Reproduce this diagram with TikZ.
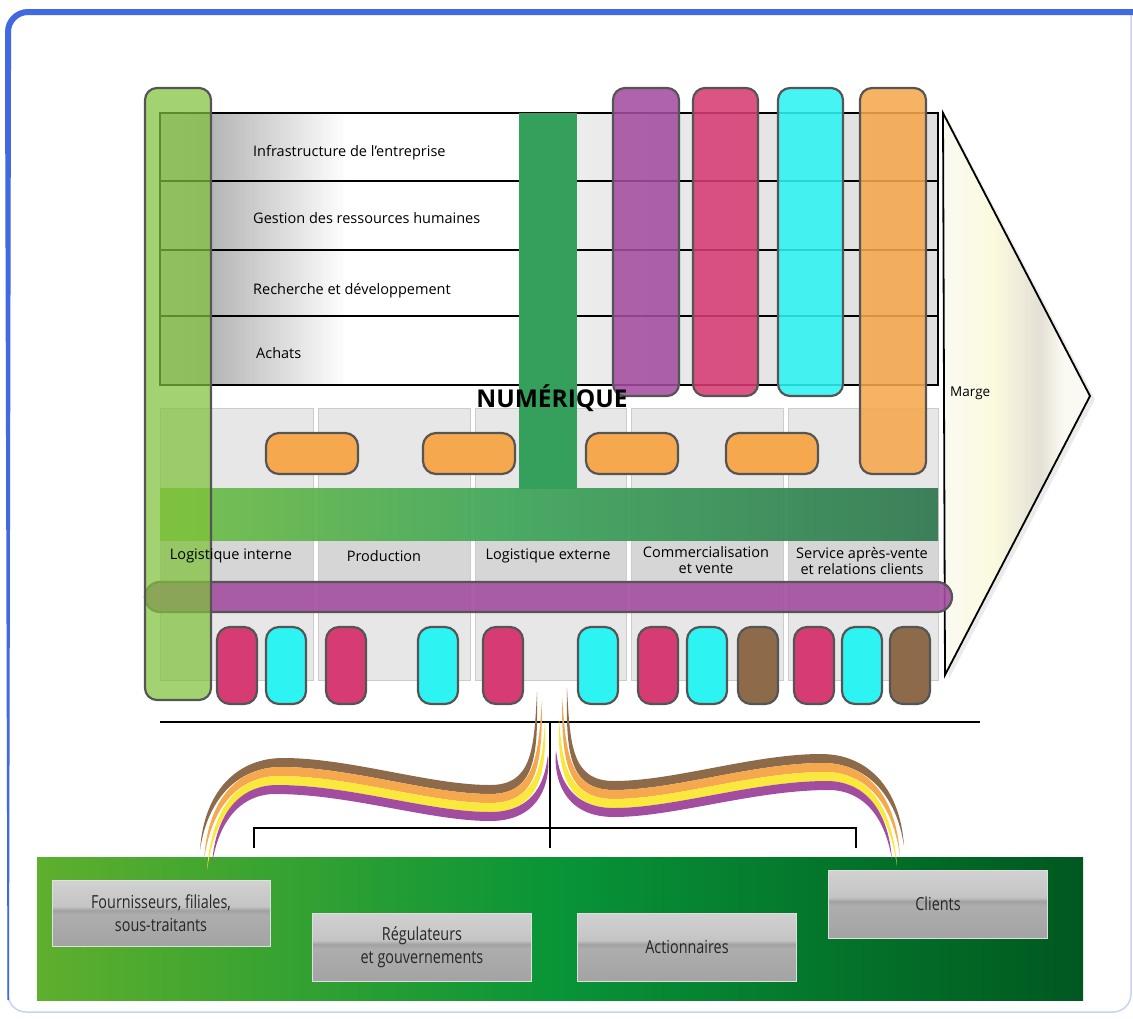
\documentclass[tikz,border=0pt]{standalone}
\usepackage{fontspec}
\setmainfont{Open Sans}
\newfontfamily\narrowfont[FakeStretch=0.8]{Open Sans}
\usetikzlibrary{calc}

\definecolor{frameblue}{RGB}{65,105,225}
\definecolor{edgegray}{RGB}{85,85,85}
\definecolor{lgreen}{RGB}{128,194,58}
\definecolor{stemgreen}{RGB}{53,160,92}
\definecolor{barpurple}{RGB}{163,77,160}
\definecolor{barcrimson}{RGB}{214,60,115}
\definecolor{barcyan}{RGB}{45,243,243}
\definecolor{barorange}{RGB}{245,168,77}
\definecolor{barbrown}{RGB}{140,106,74}
\definecolor{ribyellow}{RGB}{250,232,60}
\definecolor{boxgray}{RGB}{231,231,231}
\definecolor{bandgray}{RGB}{214,214,214}
\definecolor{bandleft}{RGB}{115,190,70}
\definecolor{bandmid}{RGB}{62,165,90}
\definecolor{bandright}{RGB}{48,120,80}
\definecolor{baseleft}{RGB}{95,175,45}
\definecolor{basemid}{RGB}{8,148,55}
\definecolor{baseright}{RGB}{0,88,32}
\definecolor{cream}{RGB}{251,250,242}
\definecolor{creamdark}{RGB}{228,224,214}

\pgfdeclarehorizontalshading{rowshade}{100bp}{color(0bp)=(gray!50); color(25bp)=(gray!50); color(28bp)=(gray!60); color(37bp)=(white); color(48bp)=(white); color(52bp)=(gray!15); color(75bp)=(gray!25); color(100bp)=(gray!25)}
\pgfdeclarehorizontalshading{bandshade}{100bp}{color(0bp)=(bandleft); color(25bp)=(bandleft); color(48bp)=(bandmid); color(75bp)=(bandright); color(100bp)=(bandright)}
\pgfdeclarehorizontalshading{baseshade}{100bp}{color(0bp)=(baseleft); color(25bp)=(baseleft); color(50bp)=(basemid); color(75bp)=(baseright); color(100bp)=(baseright)}
\pgfdeclarehorizontalshading{margeshade}{100bp}{color(0bp)=(cream); color(25bp)=(cream); color(42bp)=(cream!92!yellow); color(58bp)=(creamdark); color(66bp)=(cream); color(100bp)=(cream)}
\pgfdeclareverticalshading{metal}{100bp}{color(0bp)=(gray!72); color(25bp)=(gray!72); color(49bp)=(gray!64); color(52bp)=(gray!74); color(55bp)=(gray!46); color(75bp)=(gray!36); color(100bp)=(gray!36)}

\tikzset{
  vbar/.style={draw=edgegray, line width=2.2pt, rounded corners=12pt, fill opacity=0.88},
  pill/.style={draw=edgegray, line width=2.2pt, rounded corners=13pt},
  rowlbl/.style={anchor=west, inner sep=0pt, font=\fontsize{14.5}{17}\selectfont},
  actlbl/.style={align=center, inner sep=0pt, font=\fontsize{14.5}{16}\selectfont},
  mbox/.style={shade, shading=metal, draw=gray!25, line width=1pt, align=center,
    inner sep=0pt, text=black!85, font=\narrowfont\fontsize{18}{23}\selectfont}
}

% ruban a quatre brins
\newcommand{\ruban}{%
  \foreach \col/\kk/\tx/\ty/\bx/\by in {barbrown/0/537/692/200/850,barorange/1/542/700/204/860,ribyellow/2/545/722/207/870,barpurple/3/548/755/212/864}
    \fill[\col] (\tx,\ty)
      .. controls (534+4*\kk,750+5*\kk) and (532+4*\kk,785+9*\kk) .. (490,785+9*\kk)
      .. controls (430,785+9*\kk) and (350,758+9*\kk) .. (283-2*\kk,758+9*\kk)
      .. controls (238+2*\kk,758+9*\kk) and (204+4*\kk,790+6*\kk) .. (\bx,\by)
      .. controls (208+4*\kk,796+6*\kk) and (240+2*\kk,767+9*\kk) .. (281-2*\kk,767+9*\kk)
      .. controls (350,767+9*\kk) and (430,794+9*\kk) .. (490,794+9*\kk)
      .. controls (536+4*\kk,794+9*\kk) and (538+4*\kk,755+5*\kk) .. (\tx,\ty) -- cycle;
}

\begin{document}
\begin{tikzpicture}[x=1pt,y=-1pt]
  \useasboundingbox (0,0) rectangle (1133,1018);

  % Cadre
  \draw[frameblue!30, line width=1.5pt, rounded corners=18pt] (8,200) -- (8,1012) -- (1131,1012) -- (1131,14);
  \fill[frameblue] (5,60) -- (11,60) -- (9,1000) -- (7.5,1000) -- cycle;
  \draw[frameblue, line width=6pt, rounded corners=20pt] (8,70) -- (8,12) -- (1140,12);

  % Activites de soutien
  \shade[shading=rowshade] (160,113) rectangle (938,385);
  \draw[line width=1.3pt] (160,113) rectangle (938,385);
  \foreach \y in {181,250,316}
    \draw[line width=1.3pt] (160,\y) -- (938,\y);

  % Activites principales
  \foreach \xa/\xb in {160/313,318/470,475/626,631/783,788/938} {
    \fill[boxgray] (\xa,408) rectangle (\xb,680);
    \fill[bandgray] (\xa,540) rectangle (\xb,582);
    \draw[gray!40] (\xa,408) rectangle (\xb,680);
  }

  % Marge
  \fill[black, opacity=0.08] (947,117) -- (1095,399) -- (949,679) -- cycle;
  \shadedraw[shading=margeshade, line width=1.8pt] (943,113) -- (1090,396) -- (945,675) -- cycle;

  % Numerique
  \shade[shading=bandshade, opacity=0.93] (160,488) rectangle (938,540);
  \fill[stemgreen] (519,113) rectangle (577,489);

  % Barres verticales et pastilles orange
  \foreach \xa/\xb/\col in {613/679/barpurple,693/758/barcrimson,778/843/barcyan}
    \draw[vbar, fill=\col] (\xa,88) rectangle (\xb,396);
  \draw[vbar, fill=barorange] (860,88) rectangle (926,474);
  \foreach \xa in {266,423,586,726}
    \draw[pill, fill=barorange] (\xa,433) rectangle ++(92,41);

  % Barre violette et barre verte
  \draw[vbar, fill=barpurple, rounded corners=15pt, fill opacity=0.9] (145,582) rectangle (952,612);
  \draw[vbar, fill=lgreen, fill opacity=0.72] (145,88) rectangle (211,700);

  % Petites barres
  \foreach \xa/\col in {217/barcrimson,266/barcyan,326/barcrimson,418/barcyan,483/barcrimson,578/barcyan,638/barcrimson,687/barcyan,738/barbrown,794/barcrimson,842/barcyan,890/barbrown}
    \draw[pill, fill=\col] (\xa,627) rectangle ++(40,77);

  % Textes
  \node[rowlbl] (infra) at (253,153) {Infrastructure de l’entreprise};
  \node[rowlbl] (grh) at (253,218) {Gestion des ressources humaines};
  \node[rowlbl] (rd) at (253,291) {Recherche et développement};
  \node[rowlbl] (achats) at (256,353) {Achats};
  \node[inner sep=0pt, font=\bfseries\fontsize{24.5}{27}\selectfont] (num) at (552,398) {NUMÉRIQUE};
  \node[actlbl] (login) at (231,556) {Logistique interne};
  \node[actlbl] (prod) at (384,556) {Production};
  \node[actlbl] (logext) at (548,556) {Logistique externe};
  \node[actlbl] (comm) at (706,560) {Commercialisation\\et vente};
  \node[actlbl] (sav) at (862,561) {Service après-vente\\et relations clients};
  \node[anchor=west, inner sep=0pt, font=\fontsize{13.5}{15}\selectfont] (marge) at (950,393) {Marge};

  % Ligne et accolade
  \coordinate (hl) at (550,722);
  \coordinate (bc) at (550,848);
  \coordinate (bl) at (254,848);
  \coordinate (br) at (856,848);
  \draw[line width=1.6pt] (160,722) -- (980,722);
  \draw[line width=1.4pt] (hl) -- (bc);
  \draw[line width=1.4pt] (bl) |- (550,828) -| (br);

  % Parties prenantes
  \shade[shading=baseshade] (37,857) rectangle (1083,1000);
  \node[mbox, minimum width=218, minimum height=66] (fourn) at (161,913) {Fournisseurs, filiales,\\sous-traitants};
  \node[mbox, minimum width=219, minimum height=68] (regul) at (422,947) {Régulateurs\\et gouvernements};
  \node[mbox, minimum width=219, minimum height=68] (action) at (687,947) {Actionnaires};
  \node[mbox, minimum width=219, minimum height=68] (clients) at (938,904) {Clients};

  % Rubans
  \ruban
  \begin{scope}[shift={(1104,-4)}, xscale=-1]
    \ruban
  \end{scope}
\end{tikzpicture}
\end{document}
